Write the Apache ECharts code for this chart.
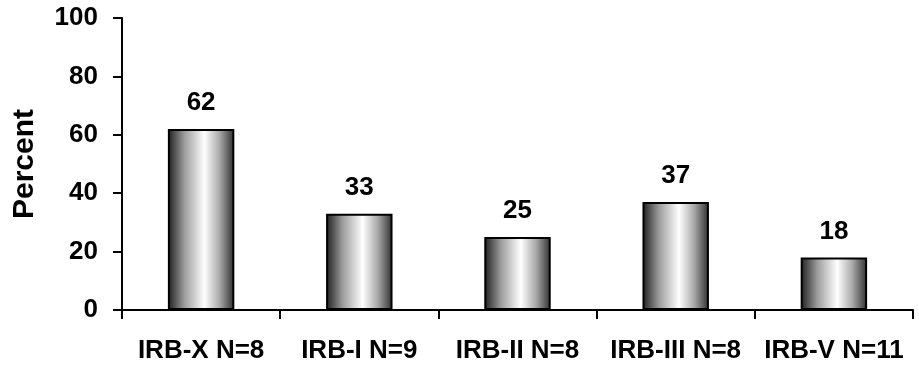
<!DOCTYPE html>
<html>
<head>
<meta charset="utf-8">
<script src="https://cdn.jsdelivr.net/npm/echarts@6/dist/echarts.min.js"></script>
<style>
  html, body { margin: 0; padding: 0; background: #fff; }
  #chart { width: 919px; height: 366px; }
</style>
</head>
<body>
<div id="chart"></div>
<script>
// Share of protocols per review board (percent)
const categories = ['IRB-X N=8', 'IRB-I N=9', 'IRB-II N=8', 'IRB-III N=8', 'IRB-V N=11'];
const percentValues = [62, 33, 25, 37, 18];
const yTicks = { min: 0, max: 100, interval: 20 };

const FONT = '"Liberation Sans", Arial, sans-serif';

// Cylinder-like shading across each bar
const barShade = new echarts.graphic.LinearGradient(0, 0, 1, 0, [
  { offset: 0, color: '#1e1e1e' },
  { offset: 0.25, color: '#9c9c9c' },
  { offset: 0.55, color: '#ffffff' },
  { offset: 0.78, color: '#a8a8a8' },
  { offset: 1, color: '#2e2e2e' }
]);

const chart = echarts.init(document.getElementById('chart'), null, { renderer: 'canvas' });
chart.setOption({
  animation: false,
  backgroundColor: '#ffffff',
  grid: { left: 122, right: 6, top: 18, bottom: 56 },
  xAxis: {
    type: 'category',
    data: categories,
    boundaryGap: true,
    axisLine: { lineStyle: { color: '#000', width: 2 } },
    axisTick: { show: true, length: 9, lineStyle: { color: '#000', width: 2 } },
    axisLabel: {
      interval: 0,
      margin: 28,
      color: '#000',
      fontFamily: FONT,
      fontWeight: 'bold',
      fontSize: 26
    }
  },
  yAxis: {
    type: 'value',
    min: yTicks.min,
    max: yTicks.max,
    interval: yTicks.interval,
    name: 'Percent',
    nameLocation: 'middle',
    nameGap: 82,
    nameTextStyle: {
      color: '#000',
      fontFamily: FONT,
      fontWeight: 'bold',
      fontSize: 30
    },
    axisLine: { show: true, lineStyle: { color: '#000', width: 2 } },
    axisTick: { show: true, length: 9, lineStyle: { color: '#000', width: 2 } },
    splitLine: { show: false },
    axisLabel: {
      margin: 24,
      color: '#000',
      fontFamily: FONT,
      fontWeight: 'bold',
      fontSize: 26
    }
  },
  series: [{
    type: 'bar',
    data: percentValues,
    barWidth: '42%',
    itemStyle: {
      color: barShade,
      borderColor: '#000',
      borderWidth: 2
    },
    label: {
      show: true,
      position: 'top',
      distance: 13,
      color: '#000',
      fontFamily: FONT,
      fontWeight: 'bold',
      fontSize: 26
    }
  }]
});
</script>
</body>
</html>
